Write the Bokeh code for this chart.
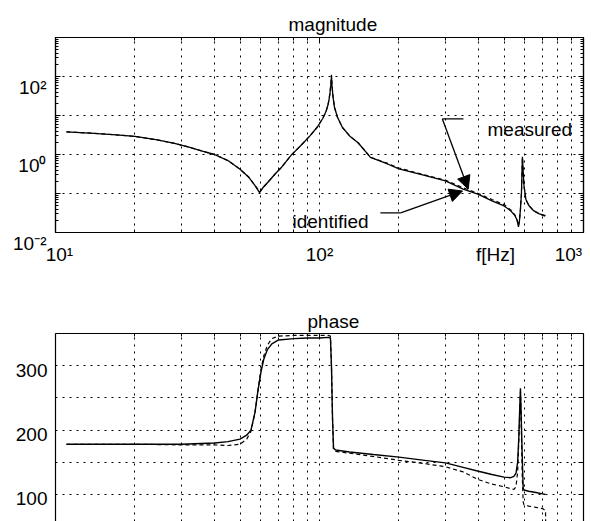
from bokeh.plotting import figure
from bokeh.layouts import column
from bokeh.models import (FixedTicker, LogAxis, LinearAxis, Label, Arrow, Grid,
                          NormalHead, Range1d, CustomJSTickFormatter, LogScale)
from bokeh.embed import file_html
from bokeh.resources import INLINE

# ---------------- data ----------------
f_mag = [11, 14, 17, 20, 24, 28, 32, 36, 40, 45, 50, 54, 57, 59.3, 61, 64, 68, 72,
         78, 85, 92, 98, 103, 106, 108, 109.5, 110.5, 111, 111.5, 112.5, 114, 117,
         122, 130, 140, 156, 180, 200, 250, 300, 350, 400, 450, 500, 530, 550, 560,
         567, 572, 577, 582, 587, 590, 595, 605, 620, 645, 680, 718]
mag_identified = [3.8, 3.5, 3.2, 2.9, 2.4, 1.95, 1.55, 1.22, 1.0, 0.7, 0.42, 0.26,
                  0.16, 0.105, 0.14, 0.2, 0.32, 0.48, 0.95, 1.7, 3.0, 5.0, 8.5, 13,
                  20, 35, 65, 105, 60, 30, 16, 9, 5, 3.0, 2.0, 0.84, 0.58, 0.43,
                  0.29, 0.21, 0.13, 0.095, 0.065, 0.048, 0.036, 0.027, 0.021, 0.014,
                  0.02, 0.04, 0.1, 0.88, 0.45, 0.16, 0.07, 0.05, 0.037, 0.03, 0.027]
mag_measured = [3.8, 3.5, 3.2, 2.9, 2.4, 1.95, 1.55, 1.22, 1.0, 0.7, 0.42, 0.26,
                0.16, 0.11, 0.14, 0.2, 0.32, 0.48, 0.95, 1.7, 3.0, 5.0, 8.6, 13, 21,
                37, 70, 110, 62, 31, 16, 9, 5, 3.0, 2.0, 0.85, 0.6, 0.45, 0.3, 0.22,
                0.14, 0.1, 0.07, 0.052, 0.038, 0.028, 0.021, 0.015, 0.02, 0.04, 0.1,
                0.85, 0.45, 0.16, 0.07, 0.05, 0.037, 0.03, 0.026]

f_ph = [11, 15, 20, 30, 40, 45, 50, 53, 55, 57, 58.5, 60, 61.5, 63.5, 66, 70, 80,
        90, 100, 108, 110, 111, 112, 113, 115, 130, 160, 200, 250, 300, 350, 400,
        450, 500, 530, 545, 555, 563, 569, 573, 577, 581, 586, 591, 595, 620, 660,
        700, 718]
phase_identified = [178, 178, 178, 178, 180, 182, 186, 192, 200, 228, 262, 290,
                    310, 325, 334, 340, 342, 343, 343, 344, 343, 300, 220, 172, 169,
                    166, 162, 158, 153, 149, 142, 136, 131, 127, 126, 128, 133, 150,
                    190, 230, 265, 220, 160, 110, 107, 105, 103, 101, 100]
f_ph_meas = f_ph + [719]
phase_measured = [178, 178, 178, 177, 177, 176, 178, 186, 198, 228, 262, 294, 315,
                  332, 342, 346, 347, 347, 347, 347, 346, 300, 220, 170, 167, 164,
                  159, 153, 148, 143, 135, 123, 116, 112, 109, 108, 112, 135, 185,
                  225, 260, 210, 130, 88, 84, 82, 80, 78, 75, 50]

x_tick_labels = ["10\u00b9", "10\u00b2", "f[Hz]", "10\u00b3"]
mag_tick_exponents = [-2, 0, 2]
mag_tick_labels = ["10\u207b\u00b2", "10\u2070", "10\u00b2"]
phase_ticks = [100, 150, 200, 250, 300]
phase_tick_labels = ["100", "200", "300"]

# ---------------- style ----------------
FONT = "Liberation Sans"
FS = "19px"
DOT = "2 5"

x_major = [10, 100, 1000]
x_minor = [m * d for d in (10, 100) for m in range(2, 10)]
y_major = [10.0 ** e for e in range(-2, 4)]
y_minor = [m * 10.0 ** e for e in range(-2, 3) for m in range(2, 10)]
# screen-position anchors for the x tick texts (centre of each label)
x_label_pos = [10.35, 100, 464, 877]
# phase labels sit ~4 px below their grid line
phase_label_pos = [93, 193, 293]


def style_axis(ax, show=False):
    ax.major_tick_in = 5
    ax.major_tick_out = 0
    ax.minor_tick_in = 3
    ax.minor_tick_out = 0
    ax.axis_line_color = "black"
    ax.axis_line_width = 1.2
    ax.major_tick_line_color = "black"
    ax.minor_tick_line_color = "black"
    if show:
        ax.major_label_text_font = FONT
        ax.major_label_text_font_size = FS
        ax.major_label_text_color = "black"
        ax.major_label_text_alpha = 1
    else:
        ax.major_label_text_font_size = "1px"
        ax.major_label_text_alpha = 0
        ax.major_label_standoff = 0


def txt(fig, x, y, text):
    fig.add_layout(Label(x=x, y=y, text=text, text_font=FONT, text_font_size=FS,
                         text_color="black", text_align="left",
                         text_baseline="alphabetic"))


def title_style(fig, offset, standoff):
    fig.title.text_font = FONT
    fig.title.text_font_size = FS
    fig.title.text_font_style = "normal"
    fig.title.text_color = "black"
    fig.title.align = "left"
    fig.title.offset = offset
    fig.title.standoff = standoff


def dotted_grids(fig, y_ticks):
    fig.add_layout(Grid(dimension=0,
                        ticker=FixedTicker(ticks=x_major, minor_ticks=x_minor),
                        grid_line_color="black", grid_line_dash=DOT,
                        minor_grid_line_color="black", minor_grid_line_dash=DOT))
    fig.add_layout(Grid(dimension=1, ticker=FixedTicker(ticks=y_ticks),
                        grid_line_color="black", grid_line_dash=DOT))


# ---------------- magnitude ----------------
p1 = figure(width=591, height=290, x_axis_type=None, y_axis_type=None,
            x_range=Range1d(10, 1000), y_range=Range1d(0.01, 1000),
            output_backend="svg", toolbar_location=None, title="magnitude",
            min_border_left=55, min_border_right=8, min_border_top=37,
            min_border_bottom=58)
p1.x_scale = LogScale()
p1.y_scale = LogScale()
p1.background_fill_color = "white"
p1.border_fill_color = "white"
p1.outline_line_color = "black"
p1.outline_line_width = 1.2
title_style(p1, 233, 6)

bottom1 = LogAxis(ticker=FixedTicker(ticks=x_label_pos, minor_ticks=x_minor),
                  formatter=CustomJSTickFormatter(args=dict(labels=x_tick_labels),
                                                  code="return labels[index]"))
left1 = LogAxis(ticker=FixedTicker(ticks=y_major, minor_ticks=y_minor),
                formatter=CustomJSTickFormatter(
                    args=dict(exps=mag_tick_exponents, labels=mag_tick_labels),
                    code="const e = Math.round(Math.log10(tick));"
                         "const i = exps.indexOf(e);"
                         "return i < 0 ? '' : '\\n' + labels[i];"))
top1 = LogAxis(ticker=FixedTicker(ticks=x_major, minor_ticks=x_minor))
right1 = LogAxis(ticker=FixedTicker(ticks=y_major, minor_ticks=y_minor))
style_axis(bottom1, show=True)
style_axis(left1, show=True)
style_axis(top1)
style_axis(right1)
bottom1.major_tick_in = 0
bottom1.major_label_standoff = 11
left1.major_label_standoff = 9
left1.major_label_text_line_height = 1.0
p1.add_layout(bottom1, "below")
p1.add_layout(left1, "left")
p1.add_layout(top1, "above")
p1.add_layout(right1, "right")
dotted_grids(p1, y_major)

p1.line(f_mag, mag_measured, line_color="black", line_width=1.2, line_dash="4 3")
p1.line(f_mag, mag_identified, line_color="black", line_width=1.3)

# annotation arrows
p1.segment(x0=[292, 170], y0=[8.15, 0.032], x1=[351, 203], y1=[8.15, 0.032],
           line_color="black", line_width=1.2)
head = dict(size=13, fill_color="black", line_color="black")
p1.add_layout(Arrow(x_start=292, y_start=8.15, x_end=366, y_end=0.13,
                    end=NormalHead(**head), line_color="black", line_width=1.3))
p1.add_layout(Arrow(x_start=203, y_start=0.032, x_end=348, y_end=0.116,
                    end=NormalHead(**head), line_color="black", line_width=1.3))
txt(p1, 433, 4.3, "measured")
txt(p1, 79, 0.019, "identified")

# ---------------- phase ----------------
p2 = figure(width=591, height=231, x_axis_type=None, y_axis_type=None,
            x_range=Range1d(10, 1000), y_range=Range1d(58, 350),
            output_backend="svg", toolbar_location=None, title="phase",
            min_border_left=55, min_border_right=8, min_border_top=43,
            min_border_bottom=0)
p2.x_scale = LogScale()
p2.background_fill_color = "white"
p2.border_fill_color = "white"
p2.outline_line_color = None
title_style(p2, 252, 4)

top2 = LogAxis(ticker=FixedTicker(ticks=x_major, minor_ticks=x_minor))
left2 = LinearAxis(ticker=FixedTicker(ticks=phase_label_pos),
                   formatter=CustomJSTickFormatter(args=dict(labels=phase_tick_labels),
                                                   code="return labels[index]"))
right2 = LinearAxis(ticker=FixedTicker(ticks=phase_ticks))
style_axis(top2)
style_axis(right2)
style_axis(left2, show=True)
left2.major_tick_in = 0
left2.major_label_standoff = 8
p2.add_layout(top2, "above")
p2.add_layout(left2, "left")
p2.add_layout(right2, "right")
dotted_grids(p2, phase_ticks)

p2.line(f_ph_meas, phase_measured, line_color="black", line_width=1.2, line_dash="4 3")
p2.line(f_ph, phase_identified, line_color="black", line_width=1.4)

layout = column(p1, p2, spacing=0)
open("out.html", "w").write(file_html(layout, INLINE))
